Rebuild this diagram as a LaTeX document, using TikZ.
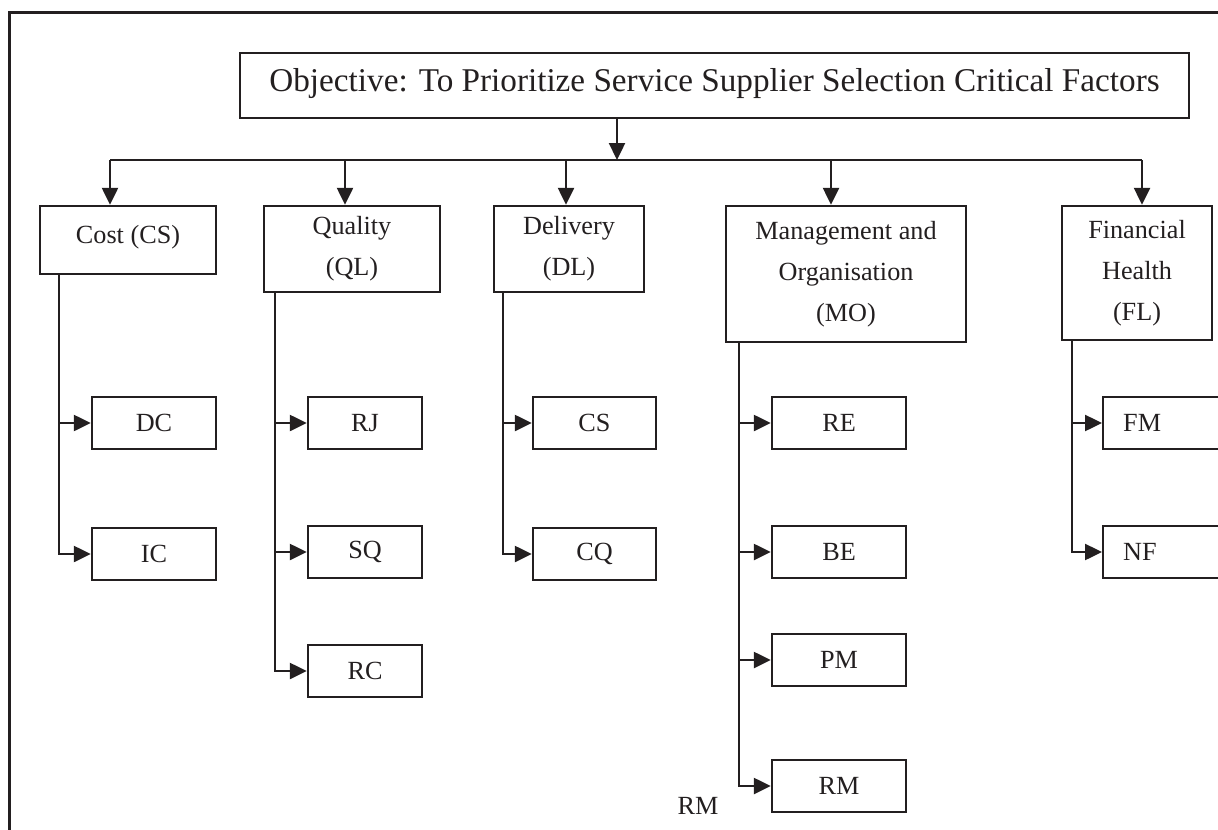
\documentclass[tikz,border=0pt]{standalone}
\usepackage{fontspec}
\setmainfont{Liberation Serif}
\usetikzlibrary{arrows.meta}
\definecolor{ink}{RGB}{35,31,32}
\tikzset{
  box/.style={draw=ink, line width=1.2pt, text=ink, align=center, inner sep=0pt},
  leaf/.style={box, minimum height=26pt},
  link/.style={draw=ink, line width=1.2pt},
  arr/.style={link, -{Triangle[length=8.5pt,width=8pt]}},
}
\begin{document}
\begin{tikzpicture}[x=0.5pt,y=-0.5pt,font=\fontsize{13.1pt}{20.5pt}\selectfont]
  \useasboundingbox (0,0) rectangle (1218,829);
  \clip (0,0) rectangle (1218,829);
  \draw[ink, line width=1.5pt] (9,13) rectangle (1260,880);
  % goal and criteria
  \node[box, minimum width=474.5pt, minimum height=32.5pt, text depth=6pt,
    font=\fontsize{16.6pt}{20pt}\selectfont] (obj) at (714.5,85.5)
    {Objective: To Prioritize Service Supplier Selection Critical Factors};
  \node[box, minimum width=88pt, minimum height=34pt, text depth=6pt] (cost) at (128,240) {Cost (CS)};
  \node[box, minimum width=88pt, minimum height=43pt] (qual) at (352,249) {Quality\\(QL)};
  \node[box, minimum width=75pt, minimum height=43pt] (deli) at (569,249) {Delivery\\(DL)};
  \node[box, minimum width=120pt, minimum height=68pt] (mano) at (846,274) {Management and\\Organisation\\(MO)};
  \node[box, minimum width=75pt, minimum height=67pt] (fina) at (1137,273) {Financial\\Health\\(FL)};
  % sub-criteria
  \node[leaf, minimum width=62pt] (dc) at (154,423) {DC};
  \node[leaf, minimum width=62pt] (ic) at (154,554) {IC};
  \node[leaf, minimum width=57pt] (rj) at (365,423) {RJ};
  \node[leaf, minimum width=57pt] (sq) at (365,552) {SQ};
  \node[leaf, minimum width=57pt] (rc) at (365,671) {RC};
  \node[leaf, minimum width=61.5pt] (cs) at (594.5,423) {CS};
  \node[leaf, minimum width=61.5pt] (cq) at (594.5,554) {CQ};
  \node[leaf, minimum width=67pt] (re) at (839,423) {RE};
  \node[leaf, minimum width=67pt] (be) at (839,552) {BE};
  \node[leaf, minimum width=67pt] (pm) at (839,660) {PM};
  \node[leaf, minimum width=67pt] (rm) at (839,786) {RM};
  \node[leaf, anchor=west, text width=50pt, inner xsep=10pt, align=left] (fm) at (1102,423) {FM};
  \node[leaf, anchor=west, text width=50pt, inner xsep=10pt, align=left] (nf) at (1102,552) {NF};
  \node[text=ink] (rmlabel) at (698,806) {RM};
  % bus
  \coordinate (bus) at (617,160);
  \coordinate (b1) at (110,160);
  \coordinate (b2) at (345,160);
  \coordinate (b3) at (566,160);
  \coordinate (b4) at (831,160);
  \coordinate (b5) at (1142,160);
  \draw[arr] (obj.south -| bus) -- (bus);
  \draw[link] (b1) -- (b5);
  \draw[arr] (b1) -- (b1 |- cost.north);
  \draw[arr] (b2) -- (b2 |- qual.north);
  \draw[arr] (b3) -- (b3 |- deli.north);
  \draw[arr] (b4) -- (b4 |- mano.north);
  \draw[arr] (b5) -- (b5 |- fina.north);
  % trunks
  \coordinate (t1) at ([xshift=10pt]cost.south west);
  \coordinate (t2) at ([xshift=6pt]qual.south west);
  \coordinate (t3) at ([xshift=5pt]deli.south west);
  \coordinate (t4) at ([xshift=7pt]mano.south west);
  \coordinate (t5) at ([xshift=5.5pt]fina.south west);
  \begin{scope}[arr]
    \draw (t1) |- (dc.west);
    \draw (t1) |- (ic.west);
    \draw (t2) |- (rj.west);
    \draw (t2) |- (sq.west);
    \draw (t2) |- (rc.west);
    \draw (t3) |- (cs.west);
    \draw (t3) |- (cq.west);
    \draw (t4) |- (re.west);
    \draw (t4) |- (be.west);
    \draw (t4) |- (pm.west);
    \draw (t4) |- (rm.west);
    \draw (t5) |- (fm.west);
    \draw (t5) |- (nf.west);
  \end{scope}
\end{tikzpicture}
\end{document}
